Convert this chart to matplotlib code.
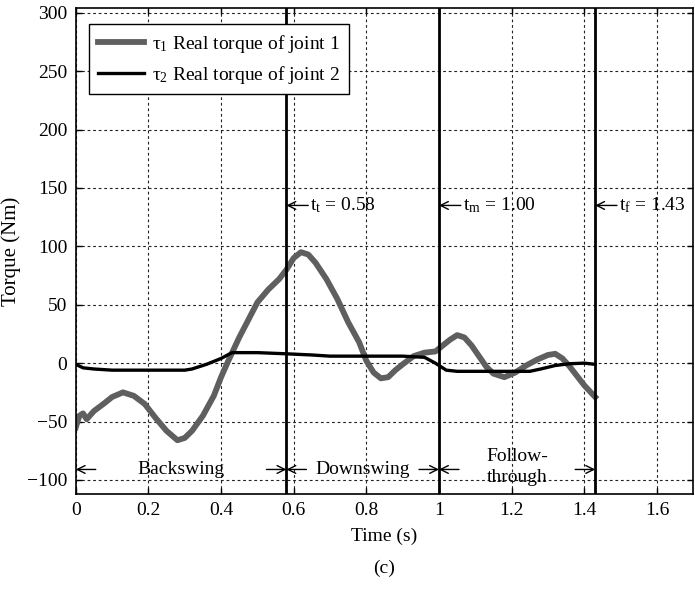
import matplotlib.pyplot as plt
from matplotlib.ticker import FormatStrFormatter

plt.rcParams.update({
    'font.family': ['Liberation Serif', 'DejaVu Serif'],
    'font.size': 14,
    'mathtext.fontset': 'custom',
    'mathtext.rm': 'Liberation Serif',
    'mathtext.it': 'Liberation Serif:italic',
    'axes.linewidth': 1.2,
})

# tau_1: real torque of joint 1
t1_time = [0, 0.01, 0.02, 0.03, 0.05, 0.08, 0.10, 0.13, 0.16, 0.19, 0.22, 0.25,
           0.28, 0.30, 0.32, 0.35, 0.38, 0.40, 0.42, 0.45, 0.48, 0.50, 0.53, 0.56,
           0.58, 0.60, 0.62, 0.64, 0.66, 0.69, 0.72, 0.75, 0.78, 0.80, 0.82, 0.84,
           0.86, 0.88, 0.90, 0.93, 0.96, 0.99, 1.01, 1.03, 1.05, 1.07, 1.09, 1.11,
           1.13, 1.15, 1.18, 1.21, 1.24, 1.27, 1.30, 1.32, 1.34, 1.36, 1.38, 1.40, 1.43]
t1_torque = [-55, -45, -43, -48, -41, -34, -29, -25, -28, -35, -47, -58,
             -66, -64, -58, -45, -28, -12, 2, 22, 40, 52, 63, 72,
             80, 90, 95, 93, 86, 72, 55, 35, 18, 2, -8, -13,
             -12, -6, -1, 6, 9, 10, 15, 20, 24, 22, 15, 6,
             -3, -9, -12, -8, -2, 3, 7, 8, 4, -3, -11, -19, -29]

# tau_2: real torque of joint 2
t2_time = [0, 0.02, 0.05, 0.10, 0.20, 0.30, 0.32, 0.36, 0.40, 0.43, 0.50, 0.58,
           0.65, 0.70, 0.80, 0.90, 0.96, 0.99, 1.02, 1.05, 1.15, 1.25, 1.28, 1.32,
           1.36, 1.40, 1.43]
t2_torque = [-1, -4, -5, -6, -6, -6, -5, -1, 4, 9, 9, 8,
             7, 6, 6, 6, 5, 0, -6, -7, -7, -7, -5, -2,
             -0.5, 0, -1]

# phase boundaries
phase_times = [0.58, 1.00, 1.43]
phase_labels = [r't$_\mathrm{t}$ = 0.58', r't$_\mathrm{m}$ = 1.00', r't$_\mathrm{f}$ = 1.43']
phase_names = ['Backswing', 'Downswing', 'Follow-\nthrough']
phase_edges = [0, 0.58, 1.00, 1.43]

fig = plt.figure(figsize=(6.95, 5.89), dpi=100)
ax = fig.add_axes([0.109, 0.1613, 0.8885, 0.8251])

ax.plot(t1_time, t1_torque, color='#5f5f5f', lw=4.2, label=r'τ$_1$ Real torque of joint 1')
ax.plot(t2_time, t2_torque, color='black', lw=2.4, label=r'τ$_2$ Real torque of joint 2')

for tp, lab in zip(phase_times, phase_labels):
    ax.axvline(tp, color='black', lw=2)
    ax.annotate('', xy=(tp, 135), xytext=(tp + 0.06, 135),
                arrowprops=dict(arrowstyle='->', color='black', lw=1, shrinkA=0, shrinkB=0))
    ax.text(tp + 0.065, 135, lab, ha='left', va='center')

arrow_y = -91
for i, name in enumerate(phase_names):
    a, b = phase_edges[i], phase_edges[i + 1]
    ax.annotate('', xy=(a, arrow_y), xytext=(a + 0.055, arrow_y),
                arrowprops=dict(arrowstyle='->', color='black', lw=1, shrinkA=0, shrinkB=0))
    ax.annotate('', xy=(b, arrow_y), xytext=(b - 0.055, arrow_y),
                arrowprops=dict(arrowstyle='->', color='black', lw=1, shrinkA=0, shrinkB=0))
    ax.text((a + b) / 2, arrow_y + (2 if '\n' in name else 0), name,
            ha='center', va='center', linespacing=1.3)

ax.set_xlim(0, 1.7)
ax.set_ylim(-112, 304)
ax.set_xticks([0, 0.2, 0.4, 0.6, 0.8, 1.0, 1.2, 1.4, 1.6])
ax.set_yticks(range(-100, 301, 50))
ax.xaxis.set_major_formatter(FormatStrFormatter('%g'))
ax.tick_params(direction='in', length=4, width=1, top=True, right=True, pad=6)
ax.grid(True, color='#222222', lw=0.8, linestyle=(0, (2.5, 2.5)))

ax.set_xlabel('Time (s)', labelpad=6)
ax.set_ylabel('Torque (Nm)', labelpad=4, fontsize=15)
fig.text(0.5 * (0.109 + 0.9975), 1 - 568 / 589, '(c)', ha='center', va='center')

leg = ax.legend(loc='upper left', bbox_to_anchor=(0.0215, 0.967), borderaxespad=0,
                fancybox=False, framealpha=1, edgecolor='black', handlelength=2.4,
                handletextpad=0.4, borderpad=0.45, labelspacing=0.45)
leg.get_frame().set_linewidth(1)

fig.savefig('out.png', dpi=100)
